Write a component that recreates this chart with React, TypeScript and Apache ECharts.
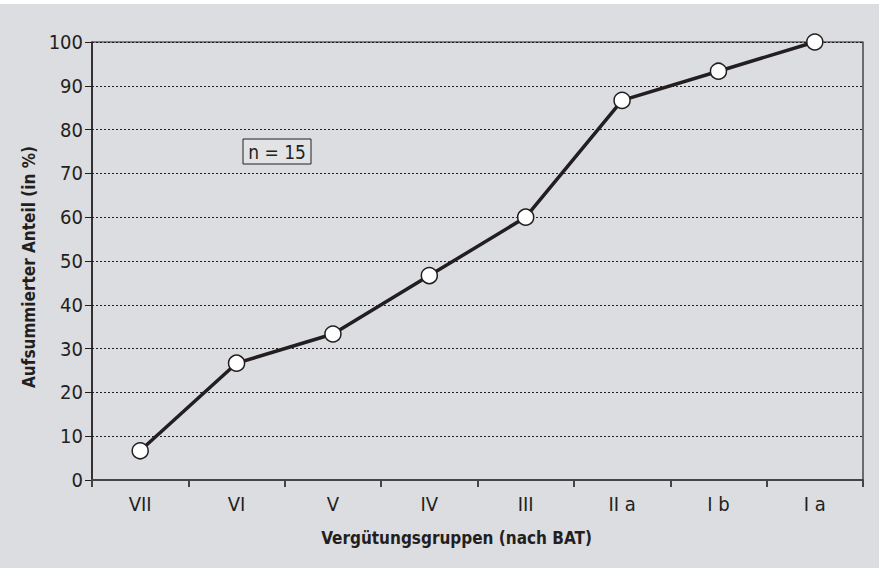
import React, { useEffect, useRef } from "react";
import * as echarts from "echarts";

const categories = ["VII", "VI", "V", "IV", "III", "II a", "I b", "I a"];
const cumulativeShare = [6.67, 26.67, 33.33, 46.67, 60, 86.67, 93.33, 100];
const yTicks = { min: 0, max: 100, interval: 10 };
const xTitle = "Vergütungsgruppen (nach BAT)";
const yTitle = "Aufsummierter Anteil (in %)";
const noteText = "n = 15";

const FONT = "'DejaVu Sans Condensed', 'Liberation Sans', sans-serif";
const INK = "#231f20";
const BG = "#dcdde0";

export default function App() {
  const ref = useRef<HTMLDivElement>(null);
  useEffect(() => {
    if (!ref.current) return;
    const chart = echarts.init(ref.current, undefined, { renderer: "svg" });
    chart.setOption({
      animation: false,
      backgroundColor: "#ffffff",
      textStyle: { fontFamily: FONT },
      graphic: [
        { type: "rect", z: -10, shape: { x: 0, y: 4, width: 879, height: 564 }, style: { fill: BG } },
        {
          type: "group",
          x: 243,
          y: 139,
          z: 50,
          children: [
            { type: "rect", shape: { x: 0, y: 0, width: 68, height: 25 }, style: { fill: "#e2e3e5", stroke: INK, lineWidth: 1 } },
            { type: "text", x: 34, y: 13, style: { text: noteText, fill: INK, font: `19px ${FONT}`, align: "center", verticalAlign: "middle" } },
          ],
        },
      ],
      grid: {
        left: 92,
        right: 18,
        top: 42,
        bottom: 88,
        show: true,
        borderColor: INK,
        borderWidth: 1.2,
        backgroundColor: "transparent",
      },
      xAxis: {
        type: "category",
        data: categories,
        boundaryGap: true,
        axisLine: { lineStyle: { color: "#444444", width: 2 } },
        axisTick: { show: true, interval: 0, length: 7, lineStyle: { color: "#444444", width: 2 } },
        axisLabel: { color: INK, fontSize: 20, margin: 14, fontFamily: FONT },
        name: xTitle,
        nameLocation: "middle",
        nameGap: 49,
        nameTextStyle: { color: INK, fontSize: 17, fontWeight: "bold", fontFamily: FONT, padding: [0, 42, 0, 0] },
        splitLine: { show: false },
      },
      yAxis: {
        type: "value",
        min: yTicks.min,
        max: yTicks.max,
        interval: yTicks.interval,
        axisLine: { show: true, lineStyle: { color: INK, width: 1.5 } },
        axisTick: { show: true, length: 7, lineStyle: { color: INK, width: 1 } },
        axisLabel: { color: INK, fontSize: 20, margin: 9, fontFamily: FONT },
        splitLine: { show: true, lineStyle: { color: INK, width: 1, type: [2, 2] } },
        name: yTitle,
        nameLocation: "middle",
        nameGap: 45,
        nameRotate: 90,
        nameTextStyle: { color: INK, fontSize: 17, fontWeight: "bold", fontFamily: FONT, padding: [0, 12, 0, 0] },
      },
      series: [
        {
          type: "line",
          data: cumulativeShare,
          symbol: "circle",
          symbolSize: 16,
          lineStyle: { color: INK, width: 3.5 },
          itemStyle: { color: "#ffffff", borderColor: INK, borderWidth: 1.5 },
          z: 10,
        },
      ],
    });
    return () => chart.dispose();
  }, []);
  return (
    <div
      ref={ref}
      style={{ position: "fixed", left: 0, top: 0, width: 881, height: 568 }}
    />
  );
}
